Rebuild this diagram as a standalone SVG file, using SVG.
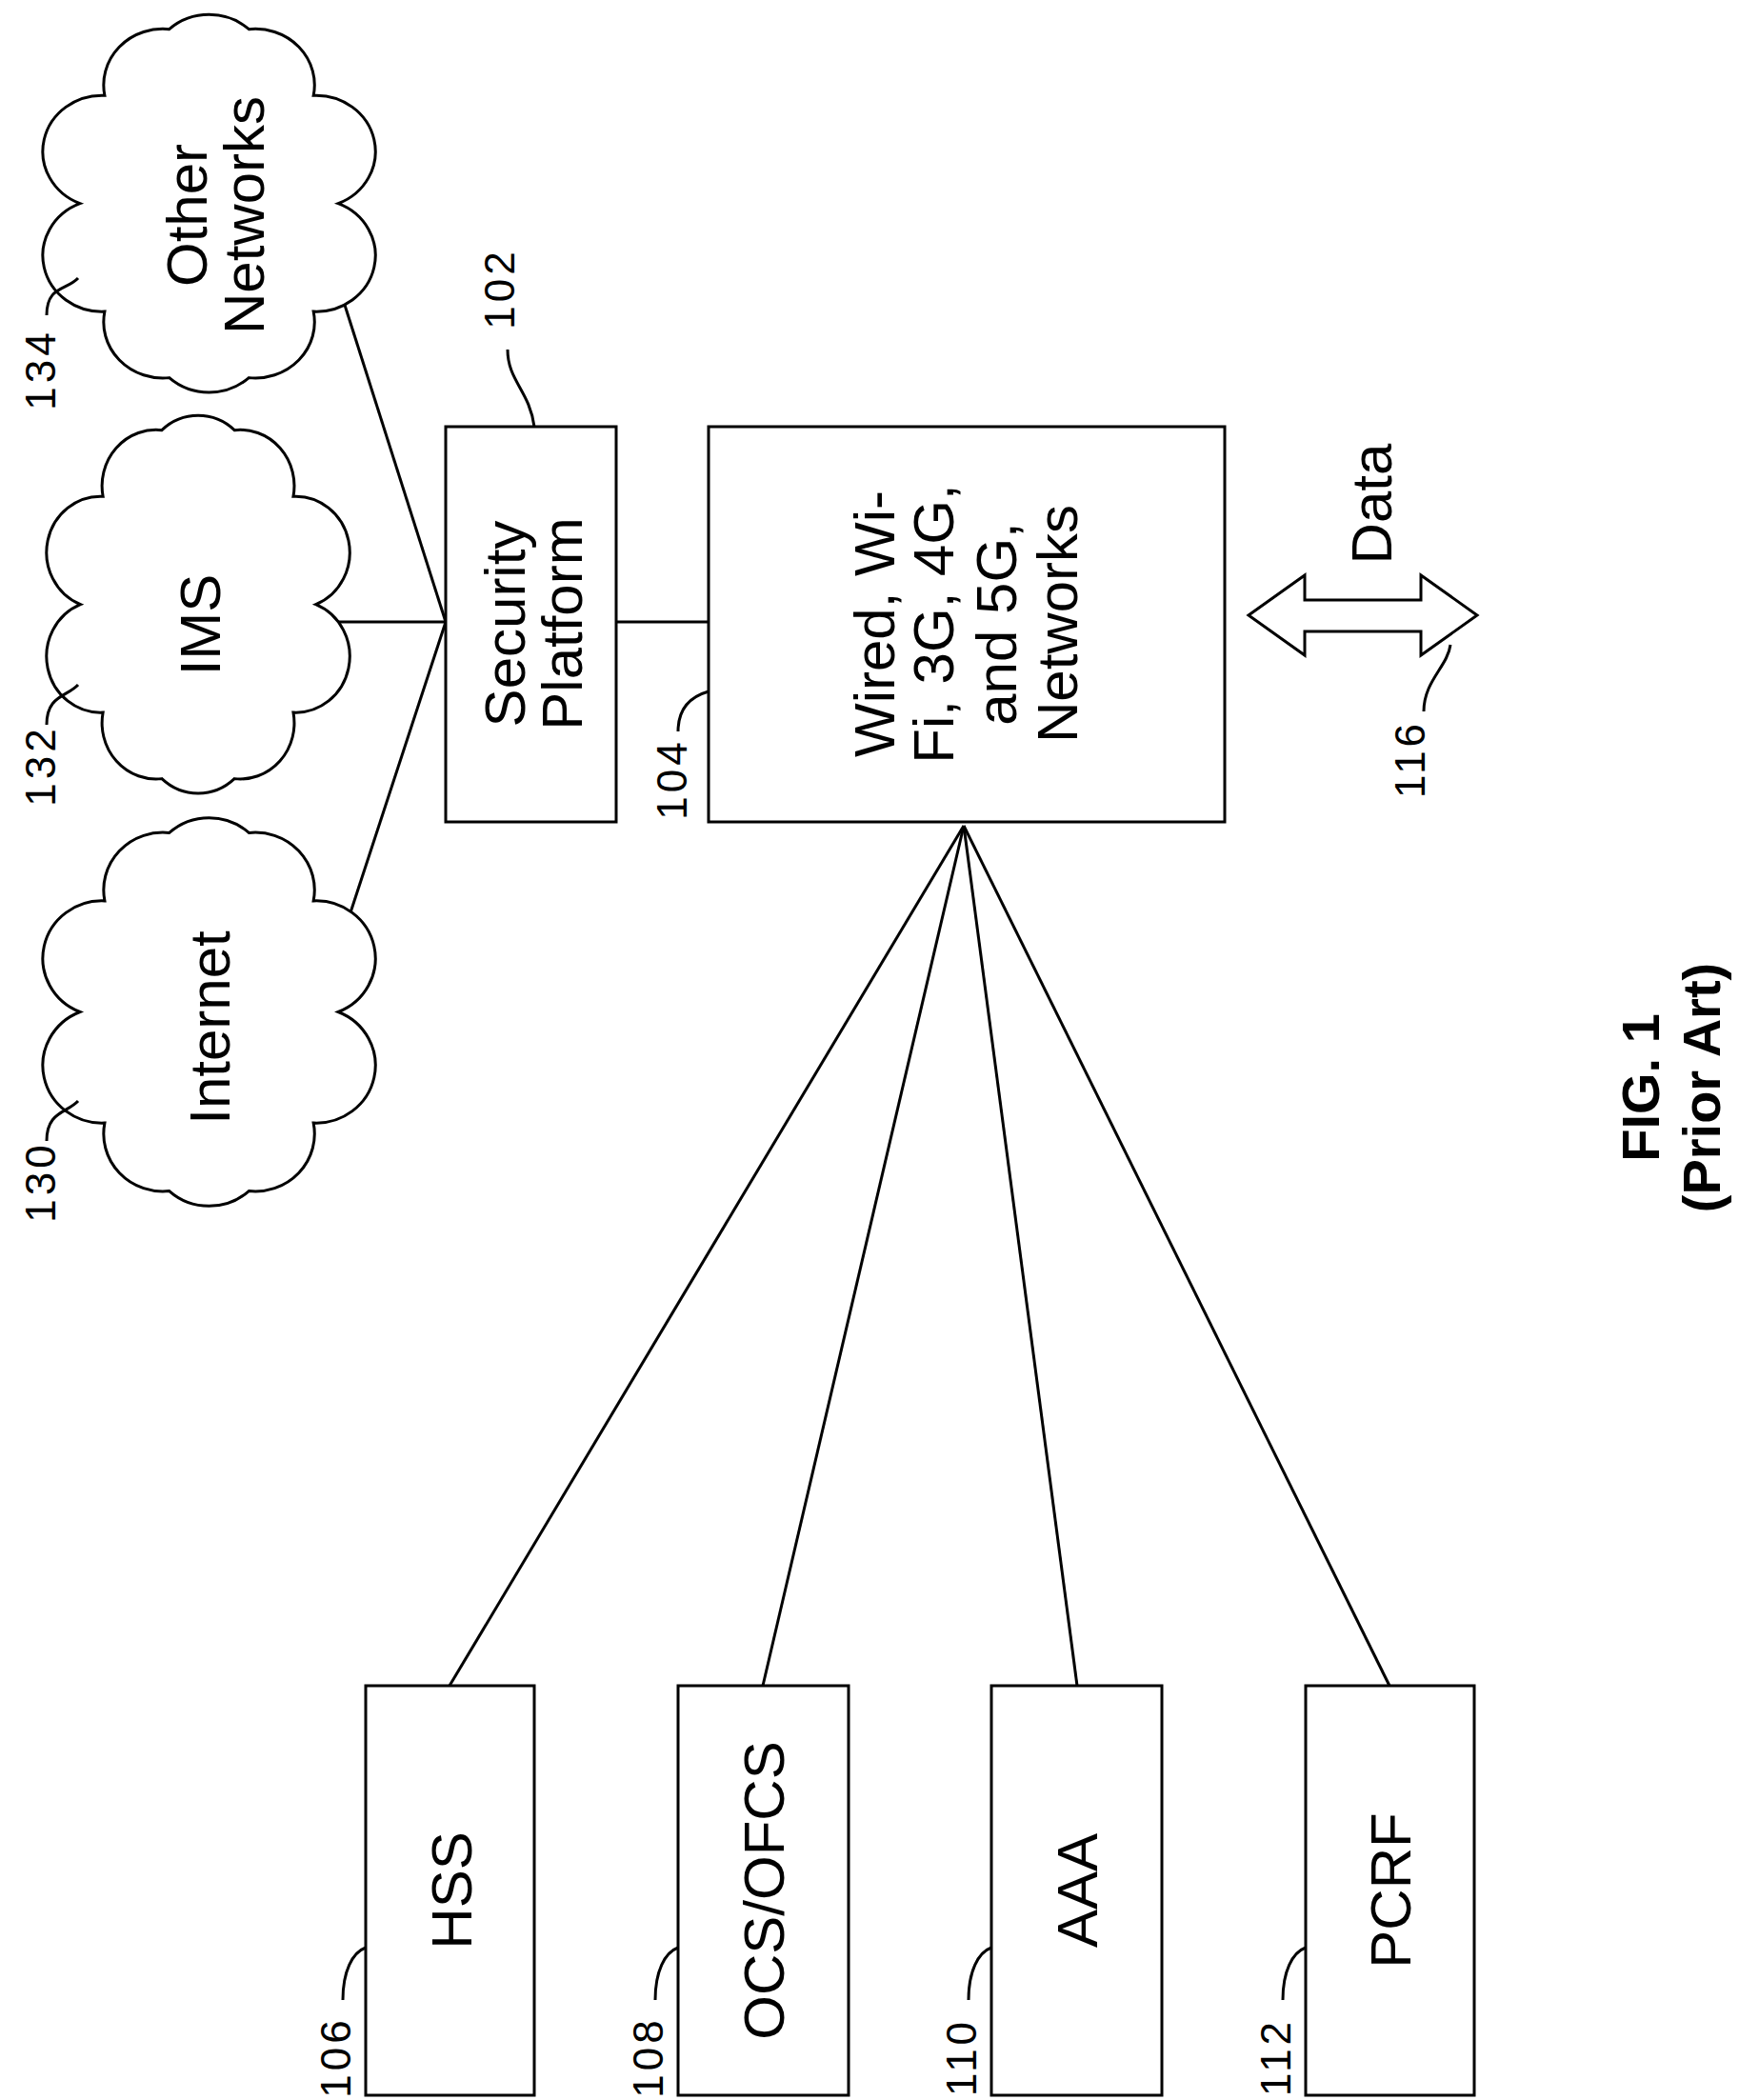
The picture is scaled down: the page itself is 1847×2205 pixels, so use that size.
<svg xmlns="http://www.w3.org/2000/svg" width="1847" height="2205" viewBox="0 0 1847 2205">
<style>
.s{fill:none;stroke:#000;stroke-width:3}
.b{fill:#fff;stroke:#000;stroke-width:3}
.t{font-family:"Liberation Sans",Arial,sans-serif;font-size:60px;text-anchor:middle;dominant-baseline:central}
.l{font-family:"Liberation Sans",Arial,sans-serif;font-size:44px;letter-spacing:4px;text-anchor:middle;dominant-baseline:central}
.f{font-family:"Liberation Sans",Arial,sans-serif;font-size:56px;font-weight:bold;text-anchor:middle;dominant-baseline:central}
</style>
<defs>
<path id="cloud" d="M255,195 A55,55 0 0 1 232,301 A55,55 0 0 1 172,366 A55,55 0 0 1 98,366 A55,55 0 0 1 38,301 A55,55 0 0 1 15,195 A55,55 0 0 1 38,89 A55,55 0 0 1 98,24 A55,55 0 0 1 172,24 A55,55 0 0 1 232,89 A55,55 0 0 1 255,195 Z" fill="#fff" stroke="#000" stroke-width="3" vector-effect="non-scaling-stroke"/>
</defs>
<rect width="1847" height="2205" fill="#fff"/>
<g id="connectors" class="s">
<line x1="353" y1="292" x2="468" y2="653"/>
<line x1="333" y1="653" x2="468" y2="653"/>
<line x1="353" y1="1004" x2="468" y2="653"/>
<line x1="647" y1="653" x2="744" y2="653"/>
<line x1="1012" y1="867" x2="472" y2="1770"/>
<line x1="1012" y1="867" x2="801" y2="1770"/>
<line x1="1012" y1="867" x2="1131" y2="1770"/>
<line x1="1012" y1="867" x2="1459" y2="1770"/>
</g>
<g id="other-networks">
<use href="#cloud" transform="translate(67,5) scale(1.13,1.07)"/>
<text class="t" transform="translate(196,226) rotate(-90)">Other</text>
<text class="t" transform="translate(256,226) rotate(-90)">Networks</text>
<path class="s" d="M49,331 C49,300 70,305 82,292"/>
<text class="l" transform="translate(42,388) rotate(-90)">134</text>
</g>
<g id="ims">
<use href="#cloud" transform="translate(69,426) scale(1.03,1.07)"/>
<text class="t" transform="translate(210,656) rotate(-90)">IMS</text>
<path class="s" d="M49,761 C49,730 70,732 82,719"/>
<text class="l" transform="translate(42,804) rotate(-90)">132</text>
</g>
<g id="internet">
<use href="#cloud" transform="translate(67,848) scale(1.13,1.1)"/>
<text class="t" transform="translate(220,1079) rotate(-90)">Internet</text>
<path class="s" d="M49,1198 C49,1167 70,1169 82,1156"/>
<text class="l" transform="translate(42,1241) rotate(-90)">130</text>
</g>
<g id="security-platform">
<rect class="b" x="468" y="448" width="179" height="415"/>
<text class="t" transform="translate(530,655) rotate(-90)">Security</text>
<text class="t" transform="translate(590,655) rotate(-90)">Platform</text>
<path class="s" d="M533,367 C533,400 556,410 561,448"/>
<text class="l" transform="translate(524,303) rotate(-90)">102</text>
</g>
<g id="wired-networks">
<rect class="b" x="744" y="448" width="542" height="415"/>
<text class="t" transform="translate(918,655) rotate(-90)">Wired, Wi-</text>
<text class="t" transform="translate(980,655) rotate(-90)">Fi, 3G, 4G,</text>
<text class="t" transform="translate(1046,655) rotate(-90)">and 5G,</text>
<text class="t" transform="translate(1110,655) rotate(-90)">Networks</text>
<path class="s" d="M712,768 C712,740 730,730 744,726"/>
<text class="l" transform="translate(705,818) rotate(-90)">104</text>
</g>
<g id="data">
<path class="b" d="M1311,646 L1370,604 L1370,630 L1492,630 L1492,604 L1551,646 L1492,688 L1492,663 L1370,663 L1370,688 Z"/>
<text class="t" transform="translate(1440,529) rotate(-90)">Data</text>
<path class="s" d="M1495,747 C1495,715 1520,700 1523,677"/>
<text class="l" transform="translate(1480,797) rotate(-90)">116</text>
</g>
<g id="hss">
<rect class="b" x="384" y="1770" width="177" height="430"/>
<text class="t" transform="translate(474,1985) rotate(-90)">HSS</text>
<path class="s" d="M360,2100 C360,2070 370,2050 384,2045"/>
<text class="l" transform="translate(352,2160) rotate(-90)">106</text>
</g>
<g id="ocs">
<rect class="b" x="712" y="1770" width="179" height="430"/>
<text class="t" transform="translate(802,1985) rotate(-90)">OCS/OFCS</text>
<path class="s" d="M688,2100 C688,2070 698,2050 712,2045"/>
<text class="l" transform="translate(680,2160) rotate(-90)">108</text>
</g>
<g id="aaa">
<rect class="b" x="1041" y="1770" width="179" height="430"/>
<text class="t" transform="translate(1131,1985) rotate(-90)">AAA</text>
<path class="s" d="M1017,2100 C1017,2070 1027,2050 1041,2045"/>
<text class="l" transform="translate(1009,2160) rotate(-90)">110</text>
</g>
<g id="pcrf">
<rect class="b" x="1371" y="1770" width="177" height="430"/>
<text class="t" transform="translate(1460,1985) rotate(-90)">PCRF</text>
<path class="s" d="M1347,2100 C1347,2070 1357,2050 1371,2045"/>
<text class="l" transform="translate(1339,2160) rotate(-90)">112</text>
</g>
<g id="caption">
<text class="f" transform="translate(1722,1142) rotate(-90)">FIG. 1</text>
<text class="f" transform="translate(1786,1142) rotate(-90)">(Prior Art)</text>
</g>
</svg>
